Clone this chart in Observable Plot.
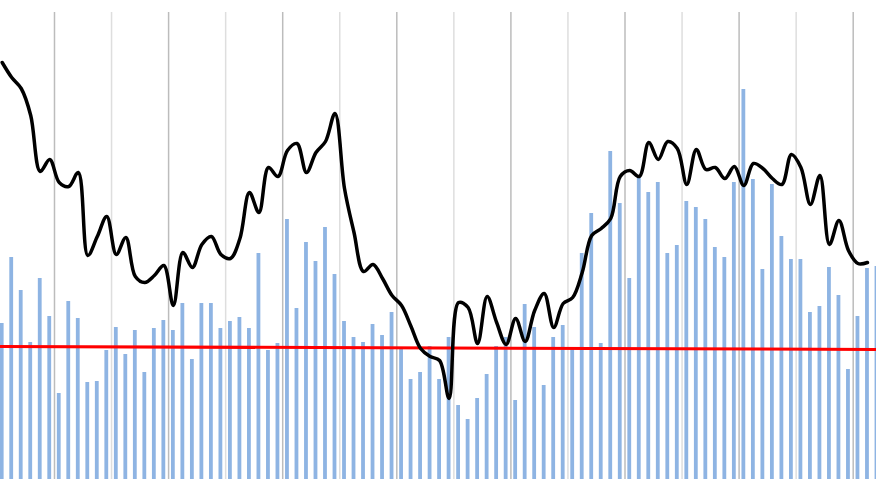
<!DOCTYPE html>
<html>
<head>
<meta charset="utf-8">
<script src="https://cdn.jsdelivr.net/npm/d3@7"></script>
<script src="https://cdn.jsdelivr.net/npm/@observablehq/plot@0.6"></script>
<style>
  html, body { margin: 0; padding: 0; background: #fff; overflow: hidden; }
  #chart svg { display: block; }
</style>
</head>
<body>
<div id="chart"></div>
<script>
// Period values (blue bars), one per period
const barValues = [15.6,22.2,18.9,13.7,20.1,16.3,8.6,17.8,16.1,9.7,9.8,12.9,15.2,12.5,14.9,10.7,
  15.1,15.9,14.9,17.6,12.0,17.6,17.6,15.1,15.8,16.2,15.1,22.6,12.9,13.6,26.0,17.1,
  23.7,21.8,25.2,20.5,15.8,14.2,13.7,15.5,14.4,16.7,13.0,10.0,10.7,13.3,10.0,14.2,
  7.4,6.0,8.1,10.5,13.3,14.2,7.9,17.5,15.2,9.4,14.2,15.4,13.1,22.6,26.6,13.6,
  32.8,27.6,20.1,30.2,28.7,29.7,22.6,23.4,27.8,27.2,26.0,23.2,22.2,29.7,39.0,30.0,
  21.0,29.5,24.3,22.0,22.0,16.7,17.3,21.2,18.4,11.0,16.3,21.1,21.3];

// Smoothed series (black line)
const lineValues = [41.7,40.2,39.1,36.4,30.8,32.0,29.7,29.3,30.7,22.4,24.3,26.3,22.5,24.2,20.3,19.7,
  20.4,21.4,17.4,22.7,21.2,23.5,24.3,22.5,22.1,24.1,28.7,26.7,31.2,30.3,32.9,33.6,
  30.7,32.7,33.8,36.6,29.1,24.7,20.8,21.5,20.1,18.4,17.4,15.3,13.1,12.3,11.9,8.1,
  17.7,17.2,13.6,18.3,15.7,13.5,16.1,13.8,16.9,18.6,15.2,17.6,18.2,20.7,24.4,25.1,
  26.1,30.3,30.9,30.3,33.7,32.0,33.8,33.1,29.5,33.0,31.0,31.2,30.1,31.3,29.4,31.6,
  31.1,30.1,29.5,32.5,31.2,27.5,30.4,23.5,25.9,22.9,21.6,21.7];

// Linear trend (red line): start and end values
const trendPeriods = [-0.2, 92];
const trendValues = [13.3, 13.0];

// Vertical gridlines every 6 periods
const gridPeriods = d3.range(15).map(k => 5.5 + 6 * k);

const bars = barValues.map((v, i) => ({i, v}));
const line = lineValues.map((v, i) => ({i, v}));
const trend = trendPeriods.map((i, k) => ({i, v: trendValues[k]}));
const grid = gridPeriods.map((i, k) => ({i, dark: k % 2 === 0}));

const chart = Plot.plot({
  width: 876,
  height: 479,
  margin: 0,
  x: {type: "linear", domain: [-0.179, 91.95], axis: null},
  y: {domain: [0, 47.9], axis: null},
  marks: [
    Plot.ruleX(grid.filter(d => d.dark), {x: "i", y1: 0, y2: 46.7, stroke: "#bcbcbc", strokeWidth: 1.5}),
    Plot.ruleX(grid.filter(d => !d.dark), {x: "i", y1: 0, y2: 46.7, stroke: "#dedede", strokeWidth: 1.5}),
    Plot.rectY(bars, {x1: d => d.i - 0.2, x2: d => d.i + 0.2, y: "v", fill: "#8eb4e3"}),
    Plot.line(trend, {x: "i", y: "v", stroke: "#ff0000", strokeWidth: 3}),
    Plot.line(line, {x: "i", y: "v", stroke: "#000000", strokeWidth: 3.5, curve: "catmull-rom"})
  ]
});
document.getElementById("chart").appendChild(chart);
</script>
</body>
</html>
